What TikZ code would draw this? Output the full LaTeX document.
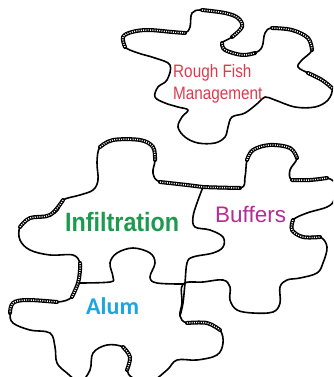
\documentclass[tikz,border=0pt]{standalone}
\usepackage{fontspec}
\setmainfont{Liberation Sans}
\newfontfamily\narrowfont[FakeStretch=0.85]{Liberation Sans}
\newfontfamily\alumfont{Carlito}
\definecolor{fishred}{HTML}{DC3A4C}
\definecolor{infgreen}{HTML}{1E9A4E}
\definecolor{bufpink}{HTML}{B32D94}
\definecolor{alumblue}{HTML}{1AA6E0}

\begin{document}
\begin{tikzpicture}[x=1pt, y=-1pt,
  outline/.style={black, line width=1.6pt, line join=round},
  ribbon/.style={black, line width=4pt, line cap=round,
    postaction={draw=white, line width=1.4pt, line cap=butt, dash pattern=on 1pt off 1.3pt}},
  word/.style={inner sep=0pt}]

% Frame
\useasboundingbox (0,0) rectangle (333,377);
\clip (0,0) rectangle (333,377);

% Top piece
\draw[outline] plot[smooth cycle, tension=0.6] coordinates {
  (170,65) (155,58) (138,53) (125,47) (123,37) (132,32) (148,30) (172,32)
  (185,33) (190,27) (192,13) (202,10) (225,13) (238,18) (242,27) (232,37)
  (222,43) (225,50) (242,55) (255,53) (262,47) (265,33) (272,28) (292,30)
  (308,38) (312,50) (302,60) (298,67) (308,73) (322,80) (332,88) (328,100)
  (315,107) (295,107) (275,100) (265,97) (258,103) (245,113) (232,117)
  (228,127) (225,137) (215,143) (198,143) (185,137) (178,127) (182,117)
  (188,110) (178,107) (165,103) (155,97) (158,87) (167,80)};

% Outer edge of the three joined pieces
\draw[outline] plot[smooth cycle, tension=0.6] coordinates {
  (100,147) (113,140) (140,140) (153,147) (155,160) (153,173) (160,182)
  (187,185) (203,187) (240,188) (245,177) (247,160) (253,150) (270,145)
  (290,148) (297,158) (290,170) (292,180) (310,180) (327,178) (336,185)
  (334,200) (327,207) (307,213) (293,220) (292,230) (303,237) (320,237)
  (327,247) (323,263) (317,273) (300,278) (287,280) (280,287) (280,303)
  (273,312) (253,313) (237,310) (230,300) (230,287) (223,280) (203,282)
  (183,284) (182,303) (180,316) (187,323) (207,323) (220,330) (223,343)
  (217,355) (197,360) (177,360) (167,370) (150,382) (133,378) (127,370)
  (130,357) (123,347) (107,345) (93,353) (90,370) (80,382) (67,373)
  (57,363) (55,347) (50,333) (30,330) (13,323) (10,313) (13,303) (27,300)
  (57,302) (72,297) (78,283) (80,270) (80,263) (73,255) (50,255) (30,250)
  (20,240) (20,227) (30,218) (50,215) (58,210) (63,200) (80,195) (93,190)
  (98,180) (97,162)};

% Seam between Infiltration and Buffers, running on down the side of Alum
\draw[outline] plot[smooth, tension=0.6] coordinates {
  (203,187) (197,203) (193,217) (195,227) (210,230) (223,237) (223,247)
  (213,253) (193,257) (187,263) (185,283) (183,303) (180,316)};

% Seam between Infiltration and Alum
\draw[outline] plot[smooth, tension=0.6] coordinates {
  (78,283) (110,282) (113,277) (110,263) (117,253) (133,248) (150,253)
  (155,263) (150,277) (157,283) (185,284)};

% Striped stretches of the hand-drawn edge
\draw[ribbon] plot[smooth, tension=0.6] coordinates {(125,47) (123,37) (132,32) (148,30) (172,32) (185,33)};
\draw[ribbon] plot[smooth, tension=0.6] coordinates {(202,10) (225,13) (238,18) (242,27) (232,37)};
\draw[ribbon] plot[smooth, tension=0.6] coordinates {(222,43) (225,50) (242,55) (255,53)};
\draw[ribbon] plot[smooth, tension=0.6] coordinates {(272,28) (292,30) (308,38) (312,50)};
\draw[ribbon] plot[smooth, tension=0.6] coordinates {(308,73) (322,80) (332,88)};
\draw[ribbon] plot[smooth, tension=0.6] coordinates {(100,147) (113,140) (140,140) (153,147) (155,160)};
\draw[ribbon] plot[smooth, tension=0.6] coordinates {(160,182) (187,185) (203,187) (240,188)};
\draw[ribbon] plot[smooth, tension=0.6] coordinates {(247,160) (253,150) (270,145) (290,148) (297,158)};
\draw[ribbon] plot[smooth, tension=0.6] coordinates {(292,180) (310,180) (327,178)};
\draw[ribbon] plot[smooth, tension=0.6] coordinates {(293,220) (292,230) (303,237) (320,237)};
\draw[ribbon] plot[smooth, tension=0.6] coordinates {(63,200) (50,215) (30,218) (20,227)};
\draw[ribbon] plot[smooth, tension=0.6] coordinates {(80,263) (80,270) (78,283) (72,297)};
\draw[ribbon] plot[smooth, tension=0.6] coordinates {(57,302) (27,300) (13,303) (10,313)};
\draw[ribbon] plot[smooth, tension=0.6] coordinates {(187,323) (207,323) (220,330)};
\draw[ribbon] plot[smooth, tension=0.6] coordinates {(123,347) (130,357) (127,370)};

% Labels
\node[word, anchor=north west, align=left, text=fishred,
  font=\narrowfont\fontsize{18}{22.7}\selectfont] (fish) at (173,64) {Rough Fish\\Management};
\node[word, anchor=base west, text=infgreen,
  font=\fontsize{26.5}{30}\selectfont\bfseries\addfontfeature{FakeStretch=0.88}] (infil) at (65,231) {Infiltration};
\node[word, anchor=base west, text=bufpink,
  font=\fontsize{22.5}{28}\selectfont] (buffers) at (215,222) {Buffers};
\node[word, anchor=base west, text=alumblue,
  font=\alumfont\fontsize{24}{28}\selectfont\bfseries] (alum) at (86,314) {Alum};

\end{tikzpicture}
\end{document}
